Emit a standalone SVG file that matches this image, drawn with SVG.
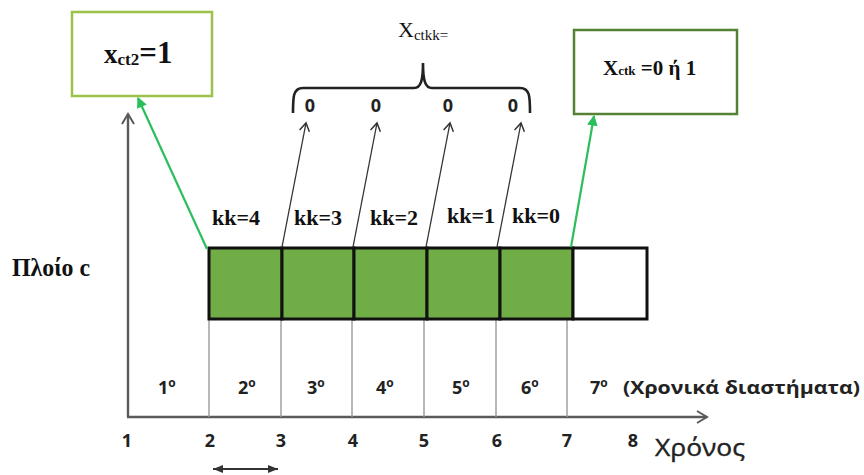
<svg xmlns="http://www.w3.org/2000/svg" width="864" height="475" viewBox="0 0 864 475">
<style>
.serif{font-family:"Liberation Serif","Times New Roman",serif;fill:#111}
.b{font-weight:bold}
.sans{font-family:"Open Sans","DejaVu Sans",sans-serif;font-weight:bold;fill:#222}
.cell{fill:#70ad47;stroke:#111;stroke-width:3}
.tick{stroke:#9a9a9a;stroke-width:1.4;fill:none}
.axis{stroke:#5a5a5a;stroke-width:2.4;fill:none}
.blk{stroke:#333;stroke-width:1.3;fill:none}
.grn{stroke:#2bbf5b;stroke-width:2.2;fill:none}
</style>
<defs>
<marker id="hb" markerUnits="userSpaceOnUse" markerWidth="14" markerHeight="14" refX="10" refY="6" orient="auto">
<path d="M2,1 L10,6 L2,11" fill="none" stroke="#333" stroke-width="1.5"/>
</marker>
<marker id="hg" markerUnits="userSpaceOnUse" markerWidth="14" markerHeight="14" refX="10" refY="6" orient="auto">
<path d="M1,1.5 L10,6 L1,10.5 Z" fill="#2bbf5b" stroke="#2bbf5b" stroke-width="1"/>
</marker>
<marker id="ha" markerUnits="userSpaceOnUse" markerWidth="16" markerHeight="16" refX="12" refY="7" orient="auto">
<path d="M2,1 L12,7 L2,13" fill="none" stroke="#5a5a5a" stroke-width="2"/>
</marker>
<marker id="hd" markerUnits="userSpaceOnUse" markerWidth="12" markerHeight="12" refX="10" refY="5" orient="auto-start-reverse">
<path d="M0,1 L10,5 L0,9 Z" fill="#333"/>
</marker>
</defs>

<g id="axes">
<line class="axis" x1="128" y1="417" x2="128" y2="114" marker-end="url(#ha)"/>
<line class="axis" x1="127" y1="417" x2="707" y2="417" marker-end="url(#ha)"/>
<line class="tick" x1="209" y1="320" x2="209" y2="417"/>
<line class="tick" x1="281" y1="320" x2="281" y2="417"/>
<line class="tick" x1="352" y1="320" x2="352" y2="417"/>
<line class="tick" x1="424" y1="320" x2="424" y2="417"/>
<line class="tick" x1="496" y1="320" x2="496" y2="417"/>
<line class="tick" x1="567" y1="320" x2="567" y2="417"/>
</g>

<g id="ship-label">
<text class="serif b" x="12" y="276" font-size="25" textLength="78" lengthAdjust="spacingAndGlyphs">Πλοίο c</text>
</g>

<g id="cells">
<rect class="cell" x="209" y="248" width="73" height="71"/>
<rect class="cell" x="282" y="248" width="72" height="71"/>
<rect class="cell" x="354" y="248" width="73" height="71"/>
<rect class="cell" x="427" y="248" width="73" height="71"/>
<rect class="cell" x="500" y="248" width="73" height="71"/>
<rect x="573" y="248" width="74" height="71" fill="#fff" stroke="#111" stroke-width="3"/>
</g>

<g id="kk-labels" class="serif b" font-size="22">
<text x="212" y="225">kk=4</text>
<text x="294" y="225">kk=3</text>
<text x="370" y="225">kk=2</text>
<text x="447" y="223">kk=1</text>
<text x="512" y="223">kk=0</text>
</g>

<g id="box-xct2">
<rect x="72" y="12" width="140" height="84" fill="#fff" stroke="#9bc34a" stroke-width="2.5"/>
<text class="serif b" x="104" y="63"><tspan font-size="27">x</tspan><tspan font-size="17" dy="2">ct2</tspan><tspan font-size="31" dy="-2">=1</tspan></text>
</g>

<g id="box-xctk">
<rect x="574" y="30" width="163" height="84" fill="#fff" stroke="#548235" stroke-width="2.5"/>
<text class="serif b" x="603" y="75"><tspan font-size="21">X</tspan><tspan font-size="13">ctk</tspan><tspan font-size="21"> =0 ή 1</tspan></text>
</g>

<g id="xctkk">
<text class="serif" x="398" y="37"><tspan font-size="22">X</tspan><tspan font-size="15" dy="3">ctkk=</tspan></text>
<path d="M293,113 C293,97 293,88 303,88 L414,88 C421,88 423,80 423,63 C423,80 425,88 432,88 L520,88 C530,88 530,97 530,113" fill="none" stroke="#222" stroke-width="2.6"/>
<g class="sans" font-size="18" text-anchor="middle">
<text x="310" y="112">0</text>
<text x="376" y="112">0</text>
<text x="448" y="112">0</text>
<text x="513" y="112">0</text>
</g>
</g>

<g id="connectors">
<line class="blk" x1="282" y1="247" x2="306" y2="123" marker-end="url(#hb)"/>
<line class="blk" x1="353" y1="247" x2="377" y2="123" marker-end="url(#hb)"/>
<line class="blk" x1="426" y1="247" x2="450" y2="123" marker-end="url(#hb)"/>
<line class="blk" x1="497" y1="247" x2="521" y2="123" marker-end="url(#hb)"/>
<line class="grn" x1="207" y1="249" x2="138" y2="98" marker-end="url(#hg)"/>
<line class="grn" x1="571" y1="247" x2="594" y2="116" marker-end="url(#hg)"/>
<line x1="213" y1="469" x2="278" y2="469" stroke="#333" stroke-width="1.8" marker-start="url(#hd)" marker-end="url(#hd)"/>
</g>

<g id="intervals" class="sans" font-size="18">
<text x="158" y="394">1<tspan font-size="12" dy="-7">ο</tspan></text>
<text x="238" y="394">2<tspan font-size="12" dy="-7">ο</tspan></text>
<text x="307" y="394">3<tspan font-size="12" dy="-7">ο</tspan></text>
<text x="376" y="394">4<tspan font-size="12" dy="-7">ο</tspan></text>
<text x="452" y="394">5<tspan font-size="12" dy="-7">ο</tspan></text>
<text x="521" y="394">6<tspan font-size="12" dy="-7">ο</tspan></text>
<text x="590" y="394">7<tspan font-size="12" dy="-7">ο</tspan></text>
<text x="623" y="394" textLength="237" lengthAdjust="spacingAndGlyphs">(Χρονικά διαστήματα)</text>
</g>

<g id="time-ticks" class="sans" font-size="18" text-anchor="middle">
<text x="127" y="447">1</text>
<text x="210" y="447">2</text>
<text x="281" y="447">3</text>
<text x="353" y="447">4</text>
<text x="424" y="447">5</text>
<text x="497" y="447">6</text>
<text x="567" y="447">7</text>
<text x="633" y="447">8</text>
</g>
<text x="655" y="456" font-family="Open Sans, DejaVu Sans, sans-serif" font-size="23" fill="#222" stroke="#222" stroke-width="0.4" textLength="90" lengthAdjust="spacingAndGlyphs">Χρόνος</text>
</svg>
